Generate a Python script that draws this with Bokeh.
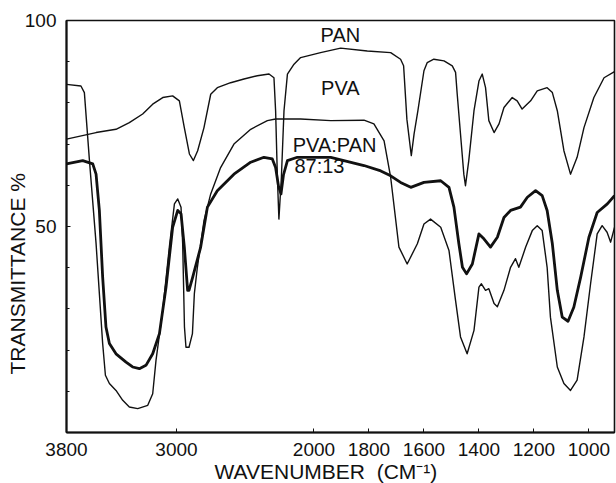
import numpy as np
from bokeh.plotting import figure
from bokeh.models import Range1d, FixedTicker, Label, Title
from bokeh.embed import file_html
from bokeh.resources import INLINE

# ---------------- data (wavenumber cm^-1, transmittance %) ----------------
x_tick_wn = [3800, 3000, 2000, 1800, 1600, 1400, 1200, 1000]
x_tick_labels = ["3800", "3000", "2000", "1800", "1600", "1400", "1200", "1000"]
y_major = [0, 50, 100]
y_major_labels = ["", "50", "100"]
y_minor = [10, 20, 30, 40, 60, 70, 80, 90]

pva_wn = [3800, 3695, 3670, 3633, 3585, 3537, 3517, 3488, 3440, 3391, 3343, 3282,
          3209, 3173, 3149, 3100, 3052, 3015, 2991, 2967, 2955, 2942, 2931, 2909,
          2884, 2870, 2848, 2800, 2751, 2679, 2582, 2460, 2339, 2279, 2097, 1939,
          1818, 1782, 1745, 1721, 1691, 1661, 1624, 1600, 1576, 1539, 1509, 1485,
          1467, 1443, 1418, 1400, 1391, 1376, 1364, 1345, 1333, 1309, 1285, 1267,
          1255, 1230, 1206, 1188, 1170, 1152, 1140, 1115, 1091, 1067, 1043, 1018,
          994, 970, 952, 934, 921, 907]
pva_t = [84.5, 84.1, 82.5, 66.0, 45.9, 21.6, 13.9, 11.9, 10.2, 7.8, 6.2, 5.8,
         6.6, 9.4, 17.5, 29.7, 45.0, 55.5, 56.7, 54.7, 45.9, 25.6, 20.7, 20.7,
         24.0, 33.7, 40.1, 51.4, 57.9, 64.3, 70.0, 73.6, 75.7, 76.1, 76.1, 75.7,
         75.8, 74.9, 70.8, 61.9, 45.0, 40.9, 45.8, 50.6, 51.8, 49.8, 44.2, 32.0,
         23.2, 19.1, 24.8, 35.3, 36.1, 34.5, 34.9, 31.3, 30.5, 34.5, 40.1, 42.2,
         40.1, 45.0, 49.0, 50.2, 49.0, 40.1, 28.0, 15.9, 11.9, 10.2, 12.7, 23.2,
         36.1, 48.2, 50.2, 48.6, 46.2, 49.8]

pan_wn = [3800, 3585, 3440, 3343, 3246, 3173, 3100, 3028, 2979, 2943, 2906, 2877,
          2846, 2800, 2751, 2703, 2606, 2509, 2412, 2327, 2291, 2279, 2266, 2255,
          2237, 2218, 2193, 2145, 2097, 1976, 1903, 1806, 1721, 1685, 1674, 1662,
          1646, 1636, 1622, 1600, 1588, 1564, 1527, 1497, 1485, 1479, 1467, 1455,
          1449, 1437, 1418, 1400, 1388, 1376, 1364, 1345, 1327, 1309, 1279, 1261,
          1243, 1212, 1188, 1152, 1133, 1115, 1091, 1067, 1043, 1018, 982, 945, 907]
pan_t = [71.2, 72.8, 73.6, 75.2, 77.3, 79.7, 81.3, 81.7, 80.5, 74.0, 67.6, 66.0,
         68.4, 74.0, 82.1, 83.7, 84.9, 85.8, 86.6, 87.0, 86.1, 78.1, 61.9, 51.8,
         61.9, 78.1, 87.0, 89.4, 91.0, 92.2, 93.3, 92.6, 92.2, 90.6, 89.0, 76.0,
         67.2, 72.4, 78.1, 87.8, 89.8, 90.6, 90.2, 89.0, 87.4, 82.1, 72.4, 62.7,
         59.9, 66.0, 78.1, 85.3, 87.0, 83.7, 75.7, 72.8, 74.9, 78.9, 81.3, 80.5,
         78.5, 80.5, 82.9, 83.7, 82.5, 78.1, 68.4, 62.7, 66.8, 74.0, 81.3, 86.1, 87.6]

blend_wn = [3800, 3682, 3609, 3585, 3561, 3537, 3513, 3488, 3440, 3367, 3319, 3270,
            3222, 3173, 3124, 3076, 3028, 2991, 2967, 2943, 2919, 2909, 2882, 2824,
            2775, 2703, 2582, 2460, 2364, 2303, 2279, 2258, 2240, 2222, 2193, 2121,
            1939, 1818, 1757, 1721, 1685, 1648, 1600, 1539, 1509, 1491, 1473, 1460,
            1445, 1424, 1400, 1382, 1358, 1333, 1309, 1285, 1249, 1224, 1194, 1170,
            1152, 1133, 1115, 1097, 1076, 1055, 1030, 1000, 970, 933, 907]
blend_t = [65.2, 66.0, 65.2, 62.7, 53.9, 37.7, 25.6, 21.6, 19.1, 17.1, 15.9, 15.5,
           16.3, 19.1, 24.0, 35.3, 49.8, 53.9, 53.1, 45.0, 34.5, 34.5, 37.7, 45.0,
           54.7, 58.7, 62.7, 65.6, 66.8, 66.4, 64.3, 59.8, 57.9, 62.5, 66.0, 66.8,
           66.8, 64.8, 63.5, 62.3, 60.7, 59.5, 60.7, 61.1, 59.5, 54.7, 45.8, 40.1,
           38.5, 40.9, 48.2, 47.0, 45.0, 47.4, 52.2, 53.9, 54.7, 57.1, 58.7, 57.5,
           53.9, 45.8, 34.5, 28.0, 27.0, 30.4, 37.7, 47.4, 53.4, 55.5, 57.5]


# IR chart abscissa: 4000-2000 region drawn at half the scale of the region below 2000
def tx(w):
    w = np.asarray(w, dtype=float)
    return np.where(w >= 2000, (3800.0 - w) * 0.5, 900.0 + (2000.0 - w))


FONT = "Liberation Sans"
INK = "#111111"

p = figure(width=616, height=483, output_backend="svg", toolbar_location=None,
           x_range=Range1d(0, 1993), y_range=Range1d(0, 100),
           min_border_left=66, min_border_right=2, min_border_top=20, min_border_bottom=51)
p.background_fill_color = "white"
p.border_fill_color = "white"
p.outline_line_color = INK
p.outline_line_width = 1.6
p.xgrid.visible = False
p.ygrid.visible = False

p.line(tx(pva_wn), pva_t, line_color=INK, line_width=1.4, line_join="round")
p.line(tx(pan_wn), pan_t, line_color=INK, line_width=1.4, line_join="round")
p.line(tx(blend_wn), blend_t, line_color=INK, line_width=2.8, line_join="round")

# x axis
xt = [float(v) for v in tx(x_tick_wn)]
p.xaxis.ticker = FixedTicker(ticks=xt)
p.xaxis.major_label_overrides = {v: s for v, s in zip(xt, x_tick_labels)}
p.xaxis.minor_tick_line_color = None
p.xaxis.major_tick_in = 4
p.xaxis.major_tick_out = 0
p.xaxis.axis_line_width = 2
p.xaxis.axis_line_color = INK
p.xaxis.major_tick_line_color = INK
p.xaxis.major_label_text_font = FONT
p.xaxis.major_label_text_font_size = "19px"
p.xaxis.major_label_text_color = INK
p.xaxis.major_label_standoff = 10

# y axis
p.yaxis.ticker = FixedTicker(ticks=y_major, minor_ticks=y_minor)
p.yaxis.major_label_overrides = {v: s for v, s in zip(y_major, y_major_labels)}
p.yaxis.major_tick_in = 4
p.yaxis.major_tick_out = 0
p.yaxis.minor_tick_in = 3
p.yaxis.minor_tick_out = 0
p.yaxis.axis_line_width = 2
p.yaxis.axis_line_color = INK
p.yaxis.major_tick_line_color = INK
p.yaxis.minor_tick_line_color = INK
p.yaxis.major_label_text_font = FONT
p.yaxis.major_label_text_font_size = "19px"
p.yaxis.major_label_text_color = INK
p.yaxis.major_label_standoff = 10


def add_label(x, y, text, size="20px"):
    p.add_layout(Label(x=x, y=y, text=text, text_font=FONT, text_font_size=size,
                       text_color=INK, text_align="center", text_baseline="middle"))


# curve labels
add_label(996, 96.6, "PAN")
add_label(996, 83.5, "PVA")
add_label(975, 69.9, "PVA:PAN")
add_label(920, 64.6, "87:13")

# axis titles
p.add_layout(Title(text="WAVENUMBER\u00a0\u00a0(CM\u207b\u00b9)", align="left", offset=148,
                   standoff=-2, text_font=FONT, text_font_size="21px",
                   text_font_style="normal", text_color=INK), "below")
p.add_layout(Title(text="TRANSMITTANCE %", align="left", offset=58,
                   standoff=-14, text_font=FONT, text_font_size="21px",
                   text_font_style="normal", text_color=INK), "left")

open("out.html", "w").write(file_html(p, INLINE))
